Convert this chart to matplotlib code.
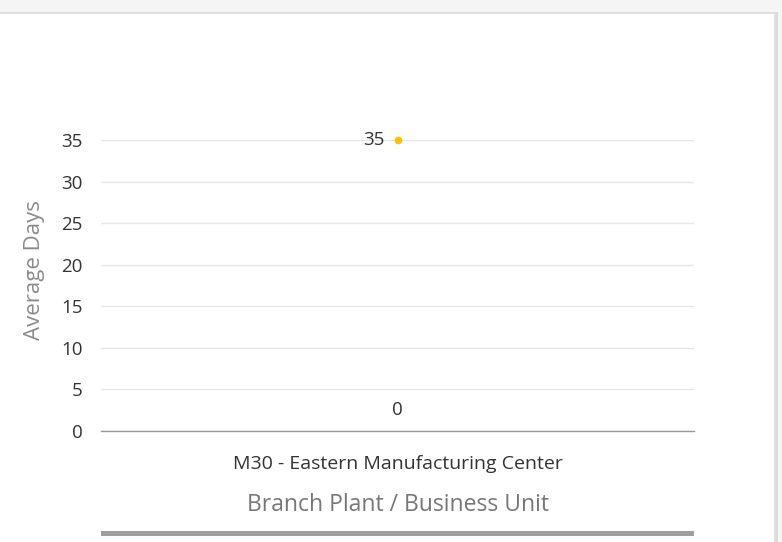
# plot average days per branch plant / business unit
import matplotlib
matplotlib.use('Agg')
import matplotlib.pyplot as plt
from matplotlib.patches import Rectangle

plt.rcParams['font.family'] = ['Open Sans', 'DejaVu Sans']

# data
categories = ['M30 - Eastern Manufacturing Center']
avg_days = [35]
baseline = [0]
y_ticks = [0, 5, 10, 15, 20, 25, 30, 35]

fig = plt.figure(figsize=(7.82, 5.42), dpi=100)
fig.patch.set_facecolor('#f5f5f5')

# card with shadow (drawn behind the axes)
top = 1 - 12 / 542
fig.patches.append(Rectangle((-0.01, -0.01), 0.995 + 0.01, top + 0.01, transform=fig.transFigure,
                             facecolor='#dcdcdc', edgecolor='none', zorder=-5))
fig.patches.append(Rectangle((-0.01, -0.01), 774 / 782 + 0.01, top + 0.008, transform=fig.transFigure,
                             facecolor='white', edgecolor='#e2e2e2', linewidth=0.8, zorder=-4))

ax = fig.add_axes([0.1292, 0.2048, 0.7583, 0.5369])
ax.set_facecolor('none')
ax.set_zorder(2)

x = range(len(categories))
ax.plot(x, avg_days, linestyle='none', marker='o', markersize=4.5, color='#ffc000',
        zorder=3, clip_on=False)

for xi, v in zip(x, avg_days):
    ax.annotate(str(v), (xi, v), xytext=(-9, 0), textcoords='offset points',
                ha='right', va='center', fontsize=13.5, color='#333333')
for xi, v in zip(x, baseline):
    ax.annotate(str(v), (xi, v), xytext=(0, 15), textcoords='offset points',
                ha='center', va='center', fontsize=13.5, color='#333333')

ax.set_xlim(-0.5, len(categories) - 0.5)
ax.set_ylim(0, 35)
ax.set_yticks(y_ticks)
ax.set_xticks(list(x))
ax.set_xticklabels(categories, fontsize=14, color='#333333')
ax.tick_params(axis='y', length=0, pad=13, labelsize=13.5, labelcolor='#333333')
ax.tick_params(axis='x', length=0, pad=17)

ax.grid(axis='y', color='#e6e6e6', linewidth=1)
ax.set_axisbelow(True)
for side in ['top', 'right', 'left']:
    ax.spines[side].set_visible(False)
ax.spines['bottom'].set_color('#999999')
ax.spines['bottom'].set_linewidth(1)

ax.set_ylabel('Average Days', fontsize=16, color='#8a8a8a')
ax.yaxis.set_label_coords(-0.094, 0.553)
ax.set_xlabel('Branch Plant / Business Unit', fontsize=16.5, color='#777777', labelpad=15)

# scrollbar below the chart
fig.patches.append(Rectangle((101 / 782, 1 - 536 / 542), (694 - 101) / 782, 5 / 542,
                             transform=fig.transFigure, facecolor='#9e9e9e', edgecolor='none'))

fig.savefig('out.png', dpi=100)
